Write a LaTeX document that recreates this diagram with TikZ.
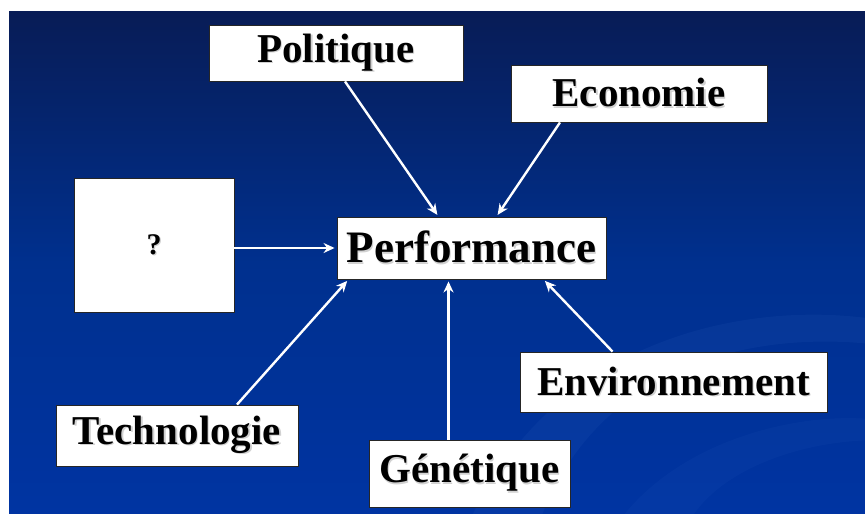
\documentclass[tikz,border=0pt]{standalone}
\usepackage{fontspec}
\setmainfont{Liberation Serif}
\usetikzlibrary{arrows.meta,calc}
\definecolor{navytop}{RGB}{8,28,86}
\definecolor{navymid}{RGB}{0,48,142}
\definecolor{navybot}{RGB}{0,52,162}
\definecolor{swoosh}{RGB}{60,110,200}
% label text with a soft drop shadow
\newcommand{\shadowtext}[1]{\makebox[0pt][l]{\hspace{1.3pt}\raisebox{-1.3pt}{\color{black!18}#1}}#1}
\tikzset{
  factor/.style={draw=black!85, line width=0.9pt, fill=white, inner sep=0pt,
    font=\fontsize{41}{41}\selectfont\bfseries, text=black},
  link/.style={draw=white, line width=2.4pt, -{Stealth[length=11pt,width=10pt]}, shorten >=2pt}
}
\begin{document}
\begin{tikzpicture}[x=1pt,y=-1pt]
\useasboundingbox (0,0) rectangle (865,514);
\fill[white] (0,0) rectangle (865,514);
% backdrop
\shade[top color=navytop, bottom color=navybot, middle color=navymid] (9,11) rectangle (865,514);
\begin{scope}
\clip (9,11) rectangle (865,514);
\fill[swoosh, opacity=0.10] (470,520) .. controls (560,330) and (760,300) .. (880,320)
  -- (880,345) .. controls (760,330) and (600,360) .. (540,520) -- cycle;
\fill[swoosh, opacity=0.08] (620,520) .. controls (680,440) and (800,410) .. (880,420)
  -- (880,440) .. controls (800,440) and (720,470) .. (690,520) -- cycle;
\end{scope}
% factor boxes
\node[factor, minimum width=254pt, minimum height=56pt] (pol) at (336,53) {\shadowtext{Politique}};
\node[factor, minimum width=256pt, minimum height=57pt] (eco) at (639,93.5) {\shadowtext{Economie}};
\node[factor, minimum width=160pt, minimum height=134pt, font=\fontsize{30}{30}\selectfont\bfseries] (unk) at (154,245) {\shadowtext{?}};
\node[factor, minimum width=269pt, minimum height=62pt, font=\fontsize{45}{45}\selectfont\bfseries] (perf) at (471.5,248) {\shadowtext{Performance}};
\node[factor, minimum width=242pt, minimum height=61pt] (tech) at (177,435.5) {\shadowtext{Technologie}};
\node[factor, minimum width=307pt, minimum height=60pt] (env) at (673.5,382) {\shadowtext{Environnement}};
\node[factor, minimum width=201pt, minimum height=67pt] (gen) at (469.5,473.5) {\shadowtext{Génétique}};
% influences on performance
\draw[link] ([xshift=9pt]pol.south) -- ([xshift=-33pt]perf.north);
\draw[link] ([xshift=-79pt]eco.south) -- ([xshift=25pt]perf.north);
\draw[link] (unk.east |- perf.west) -- (perf.west);
\draw[link] ([xshift=60pt]tech.north) -- ([xshift=-123pt]perf.south);
\draw[link] ([xshift=-21pt]gen.north) -- ([xshift=-21pt]gen.north |- perf.south);
\draw[link] ([xshift=-61pt]env.north) -- ([xshift=72pt]perf.south);
\end{tikzpicture}
\end{document}
